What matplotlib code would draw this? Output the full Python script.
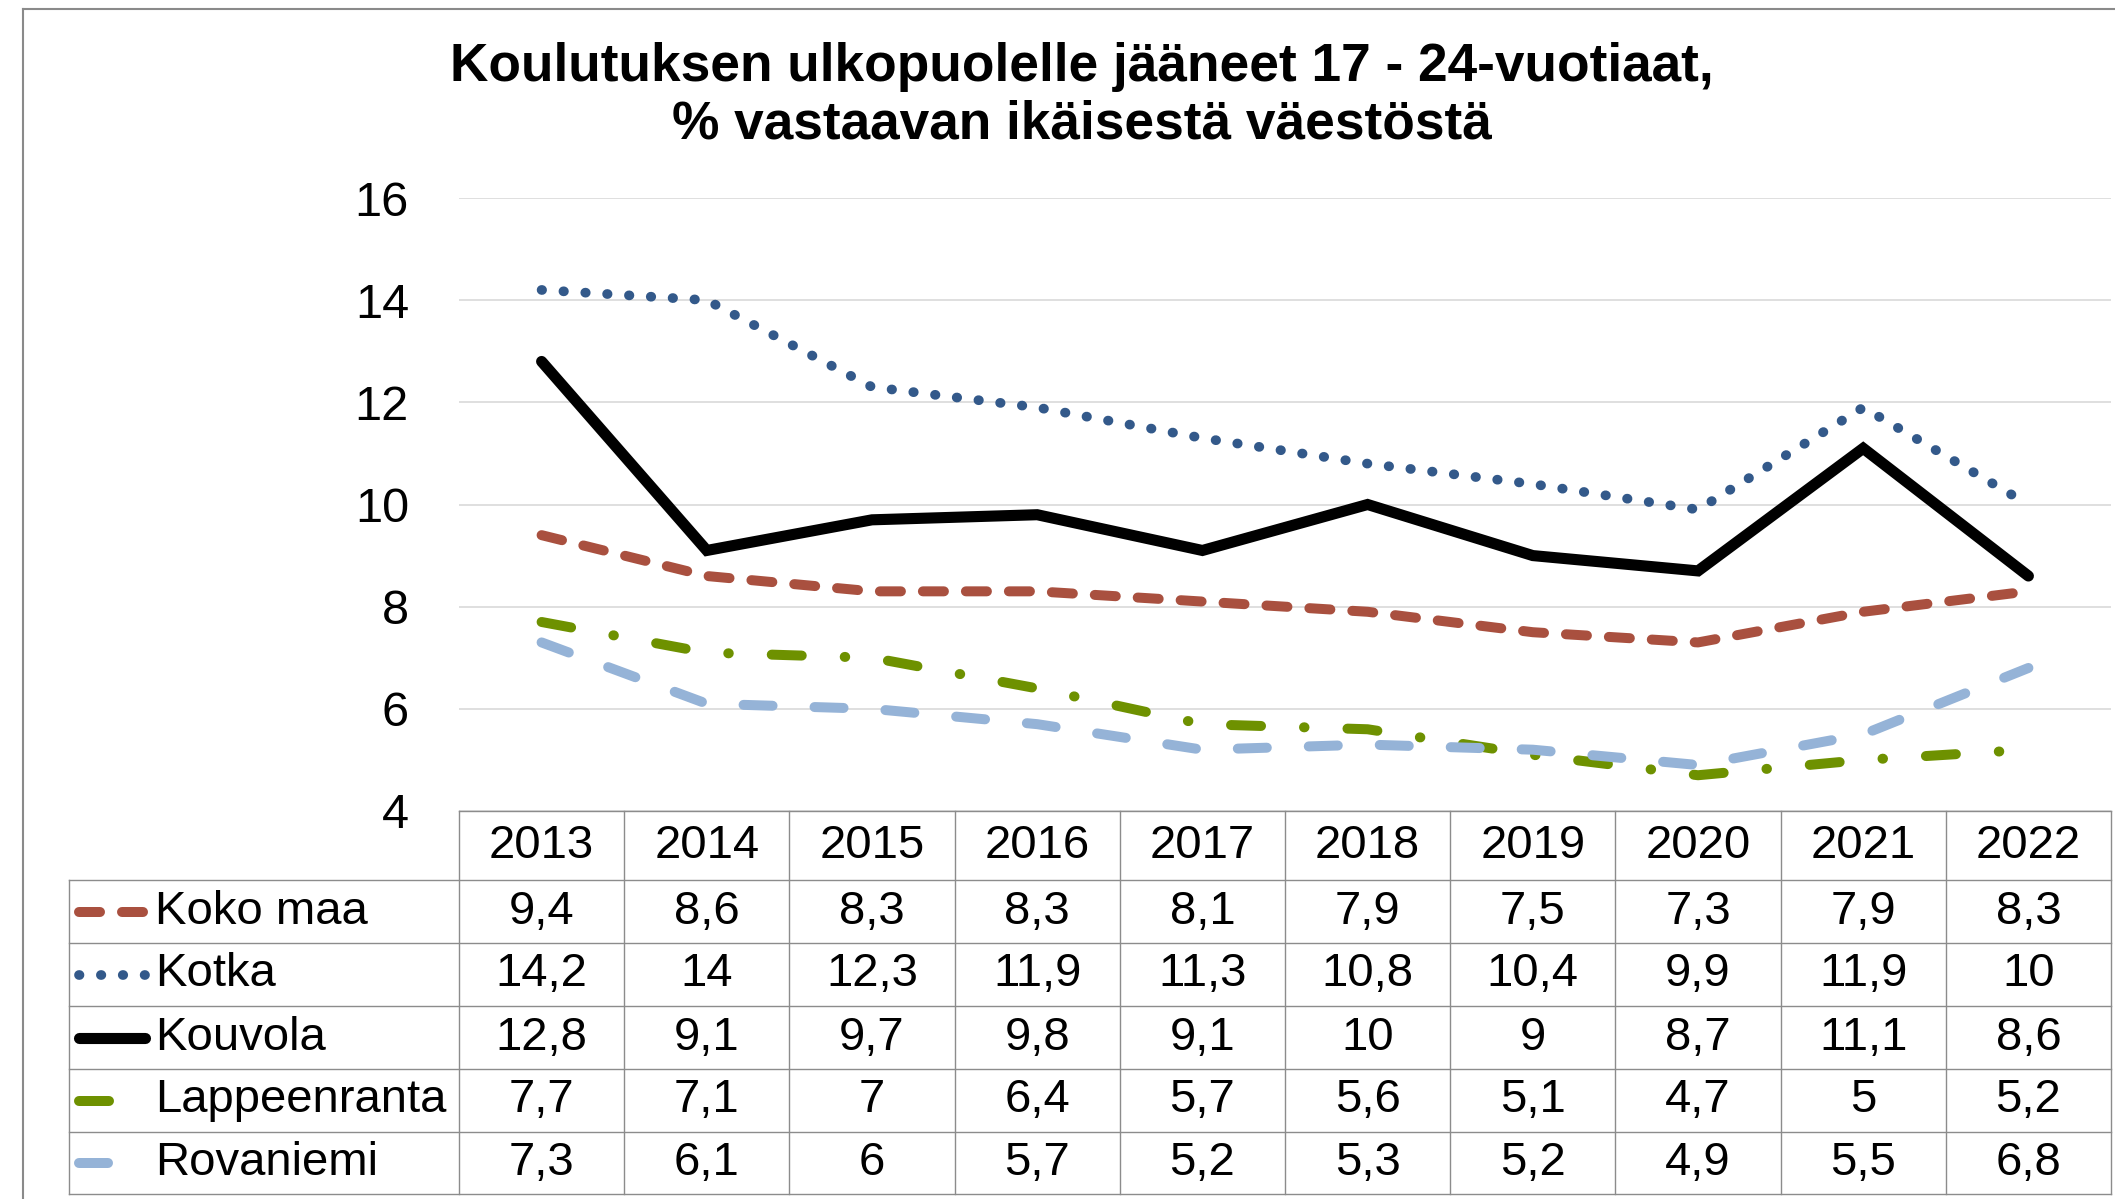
import matplotlib
matplotlib.use("Agg")
import matplotlib.pyplot as plt
from matplotlib.lines import Line2D
from matplotlib import transforms

plt.rcParams['font.family'] = ['Liberation Sans', 'DejaVu Sans']

years = [2013, 2014, 2015, 2016, 2017, 2018, 2019, 2020, 2021, 2022]
names = ["Koko maa", "Kotka", "Kouvola", "Lappeenranta", "Rovaniemi"]
koko_maa = [9.4, 8.6, 8.3, 8.3, 8.1, 7.9, 7.5, 7.3, 7.9, 8.3]
kotka = [14.2, 14, 12.3, 11.9, 11.3, 10.8, 10.4, 9.9, 11.9, 10]
kouvola = [12.8, 9.1, 9.7, 9.8, 9.1, 10, 9, 8.7, 11.1, 8.6]
lappeenranta = [7.7, 7.1, 7, 6.4, 5.7, 5.6, 5.1, 4.7, 5, 5.2]
rovaniemi = [7.3, 6.1, 6, 5.7, 5.2, 5.3, 5.2, 4.9, 5.5, 6.8]
series = [koko_maa, kotka, kouvola, lappeenranta, rovaniemi]
y_ticks = [4, 6, 8, 10, 12, 14, 16]

title = "Koulutuksen ulkopuolelle jääneet 17 - 24-vuotiaat,\n% vastaavan ikäisestä väestöstä"

# line look per series: colour, width (pt), dash pattern in linewidths
styles = [
    dict(color="#A9503F", lw=7.2, dashes=(2.1, 2.2)),
    dict(color="#33598A", lw=7.0, dashes=(0.05, 2.2)),
    dict(color="#000000", lw=8.0, dashes=None),
    dict(color="#6E9100", lw=7.2, dashes=(3.0, 4.3, 0.05, 4.3)),
    dict(color="#95B3D7", lw=7.2, dashes=(2.9, 4.2)),
]

W, H = 2115, 1199
fig = plt.figure(figsize=(W / 100, H / 100), dpi=100)


def fx(px):
    return px / W


def fy(py):
    return 1 - py / H


def fmt(v):
    return f"{v:g}".replace(".", ",")


def style_line(line, st):
    line.set_color(st["color"])
    line.set_linewidth(st["lw"])
    if st["dashes"] is not None:
        line.set_dashes(st["dashes"])
    line.set_dash_capstyle("round")
    line.set_solid_capstyle("round")
    line.set_solid_joinstyle("miter")


ax = fig.add_axes([fx(459), fy(811), fx(2111) - fx(459), fy(198) - fy(811)])
x = [i + 0.5 for i in range(len(years))]
for vals, st in zip(series, styles):
    (ln,) = ax.plot(x, vals)
    style_line(ln, st)

ax.set_xlim(0, len(years))
ax.set_ylim(4, 16)
ax.set_yticks(y_ticks)
ax.set_xticks([])
ax.grid(axis="y", color="#D9D9D9", lw=1.2)
ax.set_axisbelow(True)
for s in ax.spines.values():
    s.set_visible(False)
ax.tick_params(axis="y", length=0, pad=36, labelsize=35)

fig.text(fx(1082), fy(96), title, ha="center", va="center",
         fontsize=38.3, fontweight="bold", linespacing=1.2)

# data table under the plot
grid_col = "#8C8C8C"
tlw = 1.0
row_edges = [811, 880, 943, 1006, 1069, 1132, 1194]
legend_left = 69
right = fx(2111)
col_tr = transforms.blended_transform_factory(ax.transData, fig.transFigure)

fig.add_artist(Line2D([0, len(years)], [fy(row_edges[0])] * 2, transform=col_tr,
                      color=grid_col, lw=tlw))
for r in row_edges[1:]:
    fig.add_artist(Line2D([fx(legend_left), right], [fy(r)] * 2,
                          transform=fig.transFigure, color=grid_col, lw=tlw))
for i in range(len(years) + 1):
    fig.add_artist(Line2D([i, i], [fy(row_edges[0]), fy(row_edges[-1])],
                          transform=col_tr, color=grid_col, lw=tlw))
fig.add_artist(Line2D([fx(legend_left)] * 2, [fy(row_edges[1]), fy(row_edges[-1])],
                      transform=fig.transFigure, color=grid_col, lw=tlw))

cell_fs = 34
hy = fy((row_edges[0] + row_edges[1]) / 2)
for xi, yr in zip(x, years):
    fig.text(xi, hy, str(yr), transform=col_tr, ha="center", va="center",
             fontsize=cell_fs)

for k, (name, vals, st) in enumerate(zip(names, series, styles)):
    yc = fy((row_edges[k + 1] + row_edges[k + 2]) / 2)
    key = Line2D([fx(79), fx(145)], [yc, yc], transform=fig.transFigure)
    style_line(key, st)
    fig.add_artist(key)
    fig.text(fx(155), yc, name, ha="left", va="center", fontsize=cell_fs)
    for xi, v in zip(x, vals):
        fig.text(xi, yc, fmt(v), transform=col_tr, ha="center", va="center",
                 fontsize=cell_fs)

# outer frame (top and left edges)
frame_col = "#8A8A8A"
fig.add_artist(Line2D([fx(23), 1], [fy(9), fy(9)], transform=fig.transFigure,
                      color=frame_col, lw=1.5))
fig.add_artist(Line2D([fx(23), fx(23)], [fy(9), 0], transform=fig.transFigure,
                      color=frame_col, lw=1.5))

fig.savefig("out.png", dpi=100)
